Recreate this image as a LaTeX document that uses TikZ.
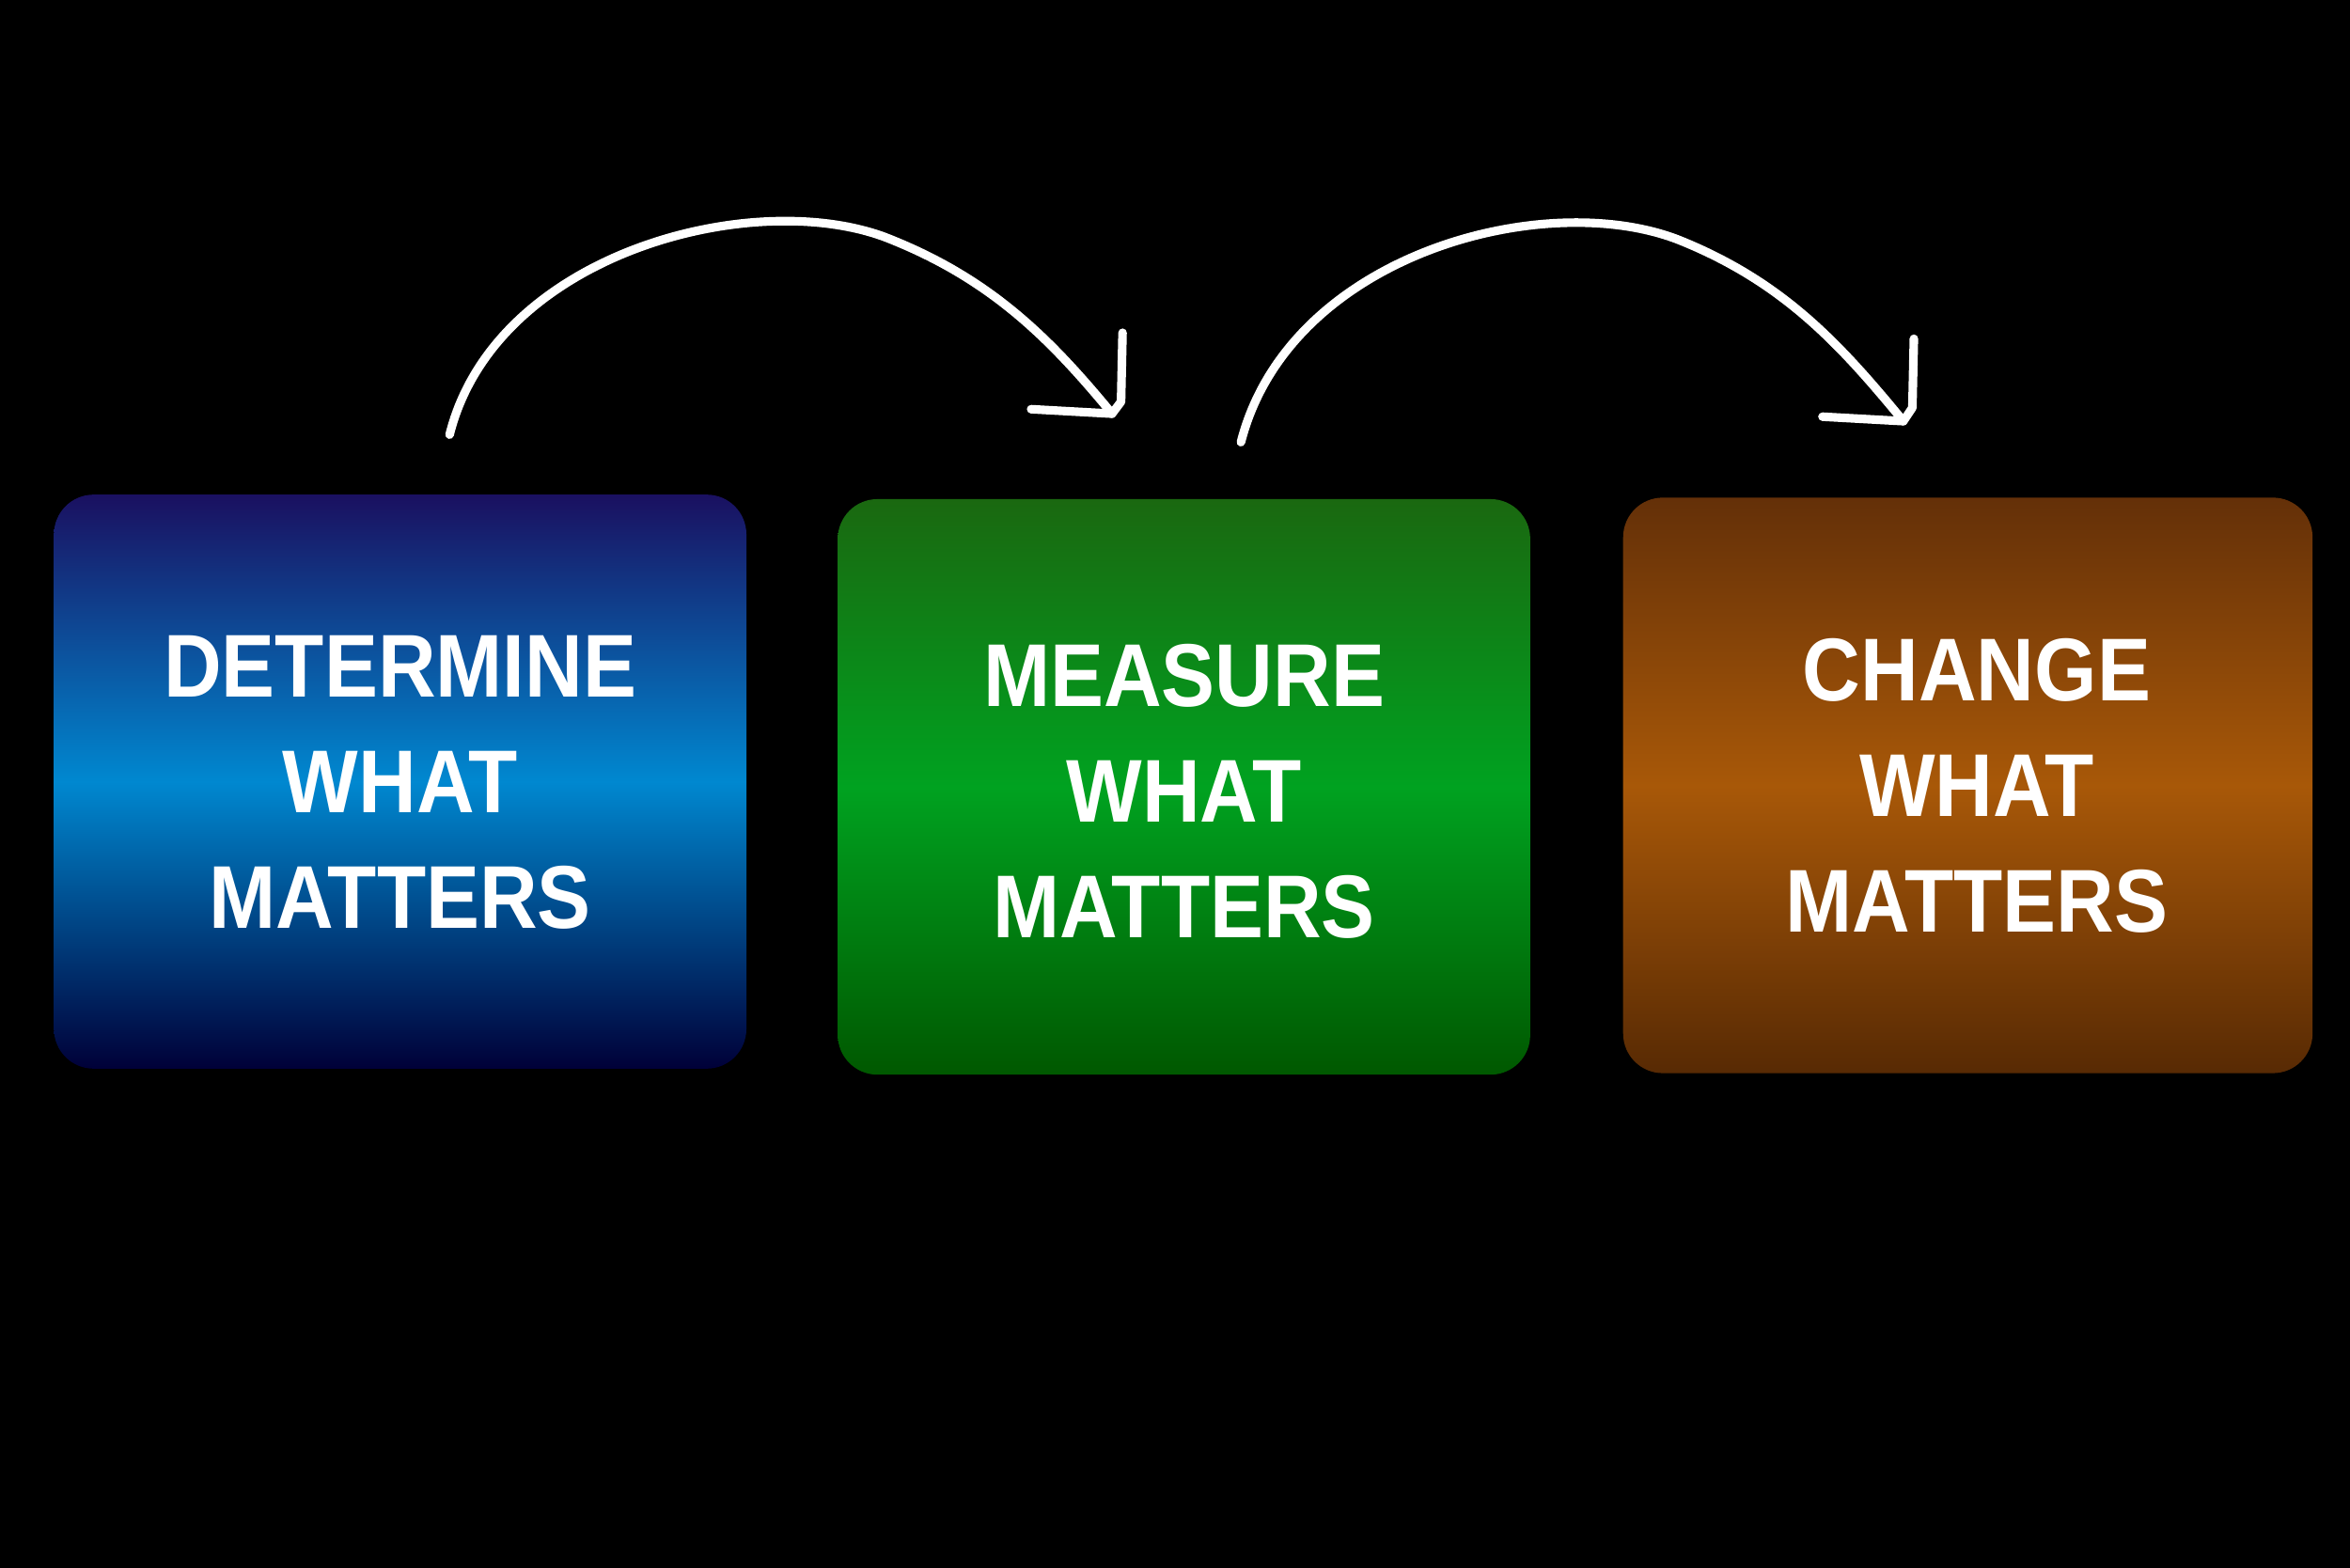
\documentclass[tikz,border=0pt]{standalone}
\usepackage{fontspec}
\setmainfont{Liberation Sans}
\begin{document}
\begin{tikzpicture}[x=0.015944cm,y=-0.015944cm,
  box/.style={rounded corners=12pt,line width=0pt},
  lbl/.style={text=white,font=\fontsize{27}{35}\selectfont\bfseries,align=center},
  arc/.style={white,line width=2.6pt,line cap=round,line join=round}]
\fill[black] (0,0) rectangle (1568,1046);
\useasboundingbox (0,0) rectangle (1568,1046);
\shade[box,top color={rgb,255:red,26;green,16;blue,96},bottom color={rgb,255:red,0;green,0;blue,56},middle color={rgb,255:red,0;green,136;blue,208}] (36,330) rectangle (498,713);
\shade[box,top color={rgb,255:red,26;green,104;blue,16},bottom color={rgb,255:red,0;green,88;blue,0},middle color={rgb,255:red,0;green,162;blue,32}] (559,333) rectangle (1021,717);
\shade[box,top color={rgb,255:red,100;green,48;blue,8},bottom color={rgb,255:red,88;green,42;blue,4},middle color={rgb,255:red,168;green,88;blue,8}] (1083,332) rectangle (1543,716);
\node[lbl,xscale=0.9] (t1) at (267,522) {DETERMINE\\WHAT\\MATTERS};
\node[lbl,xscale=0.9] (t2) at (790,528) {MEASURE\\WHAT\\MATTERS};
\node[lbl,xscale=0.9] (t3) at (1319,524) {CHANGE\\WHAT\\MATTERS};
\coordinate (a1s) at (300,290); \coordinate (a1e) at (742,276);
\coordinate (a2s) at (828,295); \coordinate (a2e) at (1270,281);
\draw[arc] (a1s) .. controls (330,170) and (500,125) .. (590,158) .. controls (660,185) and (700,225) .. (a1e);
\draw[arc] (688,273) -- (a1e) -- (748,268) -- (749,222);
\draw[arc] (a2s) .. controls (860,170) and (1030,125) .. (1120,160) .. controls (1190,188) and (1228,230) .. (a2e);
\draw[arc] (1216,278) -- (a2e) -- (1276,272) -- (1277,226);
\end{tikzpicture}
\end{document}
